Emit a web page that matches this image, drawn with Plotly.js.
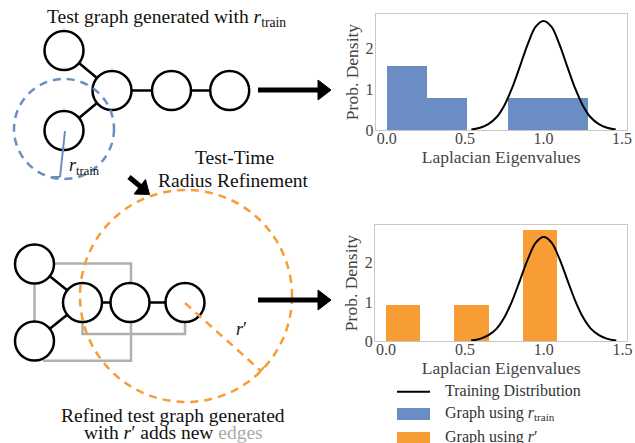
<!DOCTYPE html>
<html>
<head>
<meta charset="utf-8">
<script src="https://cdn.plot.ly/plotly-3.0.1.min.js"></script>
<style>html,body{margin:0;padding:0;background:#fff;}#chart{width:635px;height:443px;}</style>
</head>
<body>
<div id="chart"></div>
<script>
// ---- Data ----
const topBinEdges = [0, 0.257, 0.514, 0.771, 1.028, 1.285];
const topDensity = [1.56, 0.78, 0, 0.78, 0.78];
const bottomBinEdges = [0, 0.217, 0.434, 0.651, 0.868, 1.085];
const bottomDensity = [0.92, 0, 0.92, 0, 2.83];
const trainCurveX = [0.54, 0.60, 0.65, 0.70, 0.75, 0.80, 0.85, 0.90, 0.95, 1.00, 1.05, 1.10, 1.15, 1.20, 1.25, 1.30, 1.35, 1.40, 1.46];
const trainCurveY = [0.01, 0.06, 0.15, 0.31, 0.60, 1.03, 1.56, 2.10, 2.52, 2.66, 2.52, 2.10, 1.56, 1.03, 0.60, 0.31, 0.15, 0.06, 0.01];
const xTickVals = [0, 0.5, 1.0, 1.5];
const xTickText = ['0.0', '0.5', '1.0', '1.5'];
const yTickVals = [0, 1, 2];
const yTickText = ['0', '1', '2'];
const seriesNames = ['Training Distribution', 'Graph using <i>r</i><sub>train</sub>', 'Graph using <i>r</i>′'];

// ---- Styles ----
const BLUE = '#6a8dc4';
const ORANGE = '#f89c36';
const GRAY = '#b0b0b0';
const SERIF = '"Liberation Serif", "Times New Roman", serif';

function binsToBar(edges, dens, color, xa, ya) {
  const x = [], y = [], w = [];
  for (let i = 0; i < dens.length; i++) {
    if (dens[i] <= 0) continue;
    x.push((edges[i] + edges[i + 1]) / 2);
    w.push(edges[i + 1] - edges[i]);
    y.push(dens[i]);
  }
  return {type: 'bar', x: x, y: y, width: w, xaxis: xa, yaxis: ya,
          marker: {color: color, line: {width: 0}}, hoverinfo: 'skip', showlegend: false};
}
function curve(xa, ya) {
  return {type: 'scatter', mode: 'lines', x: trainCurveX, y: trainCurveY, xaxis: xa, yaxis: ya,
          line: {color: '#000', width: 2, shape: 'spline'}, hoverinfo: 'skip', showlegend: false};
}

const traces = [
  {type: 'scatter', x: [], y: [], xaxis: 'x', yaxis: 'y', showlegend: false, hoverinfo: 'skip'},
  binsToBar(topBinEdges, topDensity, BLUE, 'x2', 'y2'),
  curve('x2', 'y2'),
  binsToBar(bottomBinEdges, bottomDensity, ORANGE, 'x3', 'y3'),
  curve('x3', 'y3')
];

// ---- Diagram (pixel coordinates on an invisible overlay axis) ----
const shapes = [];
function line(x0, y0, x1, y1, color, width, dash) {
  shapes.push({type: 'line', xref: 'x', yref: 'y', x0: x0, y0: y0, x1: x1, y1: y1,
               line: {color: color, width: width, dash: dash || 'solid'}});
}
function path(d, color, width, fill) {
  shapes.push({type: 'path', xref: 'x', yref: 'y', path: d,
               line: {color: color, width: width}, fillcolor: fill || 'rgba(0,0,0,0)'});
}
function circ(cx, cy, r, color, width, fill, dash) {
  shapes.push({type: 'circle', xref: 'x', yref: 'y', x0: cx - r, x1: cx + r, y0: cy - r, y1: cy + r,
               line: {color: color, width: width, dash: dash || 'solid'}, fillcolor: fill || 'rgba(0,0,0,0)'});
}
const NR = 19.5;
// top graph
const tA = [64, 50.5], tB = [112, 90.5], tC = [64, 130.5], tD = [171.5, 90.5], tE = [229.7, 90.5];
[[tA, tB], [tC, tB], [tB, tD], [tD, tE]].forEach(e => line(e[0][0], e[0][1], e[1][0], e[1][1], '#000', 2.5));
[tA, tB, tC, tD, tE].forEach(n => circ(n[0], n[1], NR, '#000', 2.5, '#fff'));
circ(64, 129, 50, BLUE, 2.5, null, '8px,6px');
line(65, 131, 60, 177, BLUE, 2);
line(52, 177, 60, 177, BLUE, 2);
// bottom graph
const bA = [34.5, 264], bC = [34.5, 341], bB = [82.5, 302.5], bD = [130, 302.5], bE = [185, 302.5];
path('M34.5,264 V341', GRAY, 2.5);
path('M34.5,263.5 H131 V302.5', GRAY, 2.5);
path('M43,360.7 H131 V302.5', GRAY, 2.5);
path('M82.5,302.5 V334 H185 V302.5', GRAY, 2.5);
[[bA, bB], [bC, bB], [bB, bD], [bD, bE]].forEach(e => line(e[0][0], e[0][1], e[1][0], e[1][1], '#000', 2.5));
[bA, bB, bC, bD, bE].forEach(n => circ(n[0], n[1], NR, '#000', 2.5, '#fff'));
circ(186, 296, 106, ORANGE, 2.5, null, '8px,6px');
line(185, 303, 261, 371, ORANGE, 2.5, '8px,6px');
line(257, 375, 264, 367, ORANGE, 2);
// big arrows
line(258, 90, 319, 90, '#000', 5);
path('M318,80 L331,90 L318,100 Z', '#000', 1, '#000');
line(258, 300, 319, 300, '#000', 5);
path('M318,290 L331,300 L318,310 Z', '#000', 1, '#000');
// small diagonal arrow
line(129, 177, 141, 187, '#000', 5);
path('M134,194 L149.5,194.5 L145.5,179.5 Z', '#000', 1, '#000');
// manual legend marks
line(397, 391.7, 430, 391.7, '#000', 2);
shapes.push({type: 'rect', xref: 'x', yref: 'y', x0: 397, x1: 430, y0: 408, y1: 420, line: {width: 0}, fillcolor: BLUE});
shapes.push({type: 'rect', xref: 'x', yref: 'y', x0: 397, x1: 430, y0: 432, y1: 446, line: {width: 0}, fillcolor: ORANGE});

const annotations = [];
function txt(x, y, text, size, xanchor, color) {
  annotations.push({xref: 'x', yref: 'y', x: x, y: y, text: text, showarrow: false,
                    xanchor: xanchor || 'center', yanchor: 'middle',
                    font: {family: SERIF, size: size, color: color || '#111'}});
}
txt(166, 18, 'Test graph generated with <i>r</i><sub>train</sub>', 19.5);
txt(84, 166, '<i>r</i><sub>train</sub>', 18);
txt(234, 157, 'Test-Time', 19.5);
txt(233, 180, 'Radius Refinement', 19.5);
txt(241, 329, '<i>r</i>′', 18);
txt(173, 415, 'Refined test graph generated', 19.5);
txt(173, 432, 'with <i>r</i>′ adds new <span style="color:#aaaaaa">edges</span>', 19.5);
txt(443, 391, seriesNames[0], 16, 'left', '#333');
txt(443, 413, seriesNames[1], 16, 'left', '#333');
txt(443, 437, seriesNames[2], 16, 'left', '#333');

function chartX(domain, anchor) {
  return {domain: domain, anchor: anchor, range: [-0.07, 1.53], tickvals: xTickVals, ticktext: xTickText,
          showline: true, mirror: true, linecolor: '#c8c8c8', linewidth: 1, showgrid: false, zeroline: false,
          ticks: '', ticklabelstandoff: -6, tickfont: {family: SERIF, size: 16, color: '#444'},
          title: {text: 'Laplacian Eigenvalues', font: {family: SERIF, size: 17.5, color: '#444'}, standoff: 2}};
}
function chartY(domain, anchor, top) {
  return {domain: domain, anchor: anchor, range: [0, top], tickvals: yTickVals, ticktext: yTickText,
          showline: true, mirror: true, linecolor: '#c8c8c8', linewidth: 1, showgrid: false, zeroline: false,
          ticks: '', ticklabelstandoff: -2, tickfont: {family: SERIF, size: 16, color: '#444'},
          title: {text: 'Prob. Density', font: {family: SERIF, size: 17.5, color: '#444'}, standoff: 2}};
}

const layout = {
  width: 635, height: 443,
  margin: {l: 0, r: 0, t: 0, b: 0},
  paper_bgcolor: '#fff', plot_bgcolor: 'rgba(0,0,0,0)',
  font: {family: SERIF},
  showlegend: false, bargap: 0,
  xaxis: {domain: [0, 1], range: [0, 635], visible: false, fixedrange: true, anchor: 'y'},
  yaxis: {domain: [0, 1], range: [443, 0], visible: false, fixedrange: true, anchor: 'x'},
  xaxis2: chartX([375.7 / 635, 626.7 / 635], 'y2'),
  yaxis2: chartY([1 - 130 / 443, 1 - 14 / 443], 'x2', 2.83),
  xaxis3: chartX([375 / 635, 627.3 / 635], 'y3'),
  yaxis3: chartY([1 - 341 / 443, 1 - 225 / 443], 'x3', 2.97),
  shapes: shapes,
  annotations: annotations
};

Plotly.newPlot('chart', traces, layout, {staticPlot: true, displayModeBar: false});
</script>
</body>
</html>
